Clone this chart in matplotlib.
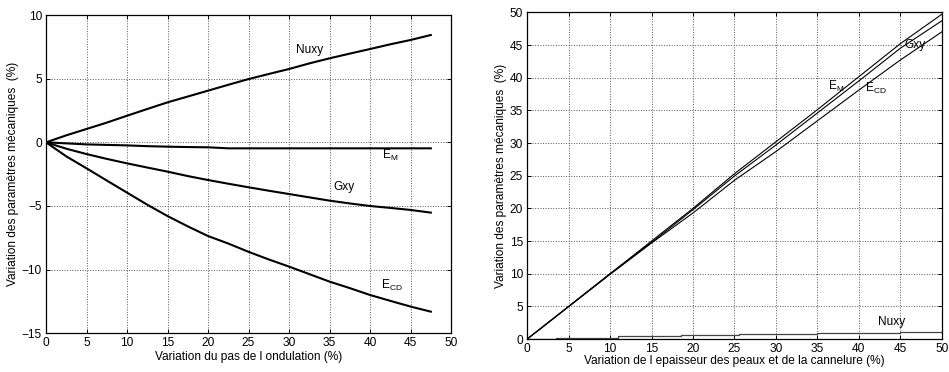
import matplotlib
matplotlib.use("Agg")
import matplotlib.pyplot as plt

plt.rcParams['font.family'] = ['Liberation Sans', 'DejaVu Sans']
plt.rcParams['mathtext.fontset'] = 'custom'
plt.rcParams['mathtext.rm'] = 'Liberation Sans'
plt.rcParams['mathtext.it'] = 'Liberation Sans'

# left panel: variation of the corrugation pitch
pitch = [0, 2.5, 5, 7.5, 10, 12.5, 15, 17.5, 20, 22.5, 25, 27.5, 30, 32.5, 35, 37.5, 40, 42.5, 45, 47.5]
nuxy_pitch = [0, 0.55, 1.05, 1.55, 2.09, 2.62, 3.14, 3.6, 4.06, 4.52, 4.97, 5.37, 5.76, 6.2, 6.6, 6.97, 7.33, 7.7, 8.04, 8.43]
em_pitch = [0, -0.08, -0.16, -0.2, -0.24, -0.3, -0.34, -0.37, -0.39, -0.47, -0.47, -0.47, -0.47, -0.47, -0.47, -0.47, -0.47, -0.47, -0.47, -0.47]
gxy_pitch = [0, -0.5, -0.92, -1.3, -1.65, -1.98, -2.3, -2.65, -2.96, -3.25, -3.53, -3.8, -4.06, -4.32, -4.58, -4.8, -5.0, -5.15, -5.31, -5.52]
ecd_pitch = [0, -1.1, -2.04, -3.0, -3.95, -4.9, -5.79, -6.6, -7.36, -7.95, -8.6, -9.2, -9.76, -10.35, -10.94, -11.45, -11.99, -12.45, -12.9, -13.3]

# right panel: variation of skin and flute thickness
thick = [0, 5, 10, 15, 20, 25, 30, 35, 40, 45, 50]
gxy_thick = [0, 5.0, 10.0, 15.0, 20.0, 25.3, 30.2, 35.1, 40.15, 45.2, 49.7]
em_thick = [0, 5.0, 10.0, 14.8, 19.8, 24.95, 29.7, 34.6, 39.5, 44.5, 48.7]
ecd_thick = [0, 4.95, 9.9, 14.7, 19.3, 24.3, 28.7, 33.4, 38.1, 42.7, 47.0]
nuxy_steps_x = [0, 3.5, 11, 18.5, 25.5, 35, 45, 50]
nuxy_steps_y = [0, 0.2, 0.4, 0.6, 0.75, 0.9, 1.05, 1.05]

ylabel = "Variation des paramètres mécaniques  (%)"
fs = 8.6


def style_axes(ax, xlim, ylim, xticks, yticks):
    ax.set_xlim(xlim)
    ax.set_ylim(ylim)
    ax.set_xticks(xticks)
    ax.set_yticks(yticks)
    ax.grid(True, linestyle=':', linewidth=0.7, color='#555555')
    ax.tick_params(direction='in', length=3, width=0.7, top=True, right=True,
                   labelsize=fs, pad=3)
    for sp in ax.spines.values():
        sp.set_linewidth(0.9)


fig = plt.figure(figsize=(9.49, 3.72), dpi=100)

ax1 = fig.add_axes([0.0485, 0.104, 0.4268, 0.8556])
style_axes(ax1, (0, 50), (-15, 10), range(0, 51, 5), range(-15, 11, 5))
for y in (nuxy_pitch, em_pitch, gxy_pitch, ecd_pitch):
    ax1.plot(pitch, y, color='black', linewidth=1.5)
ax1.text(32.6, 7.25, "Nuxy", fontsize=fs, ha='center', va='center')
ax1.text(42.5, -1.0, r"E$_{\mathrm{M}}$", fontsize=fs, ha='center', va='center')
ax1.text(36.8, -3.49, "Gxy", fontsize=fs, ha='center', va='center')
ax1.text(42.7, -11.26, r"E$_{\mathrm{CD}}$", fontsize=fs, ha='center', va='center')
ax1.set_xlabel("Variation du pas de l ondulation (%)", fontsize=fs, labelpad=1)
ax1.set_ylabel(ylabel, fontsize=fs, labelpad=2)

ax2 = fig.add_axes([0.5556, 0.0887, 0.4367, 0.878])
style_axes(ax2, (0, 50), (0, 50), range(0, 51, 5), range(0, 51, 5))
for y in (gxy_thick, em_thick, ecd_thick):
    ax2.plot(thick, y, color='black', linewidth=0.8)
ax2.plot(nuxy_steps_x, nuxy_steps_y, color='#444444', linewidth=0.9, drawstyle='steps-post')
ax2.text(46.8, 45.0, "Gxy", fontsize=fs, ha='center', va='center')
ax2.text(37.3, 38.7, r"E$_{\mathrm{M}}$", fontsize=fs, ha='center', va='center')
ax2.text(42.1, 38.3, r"E$_{\mathrm{CD}}$", fontsize=fs, ha='center', va='center')
ax2.text(44.0, 2.65, "Nuxy", fontsize=fs, ha='center', va='center')
ax2.set_xlabel("Variation de l epaisseur des peaux et de la cannelure (%)", fontsize=fs, labelpad=0)
ax2.set_ylabel(ylabel, fontsize=fs, labelpad=2)

fig.savefig("out.png", dpi=100)
